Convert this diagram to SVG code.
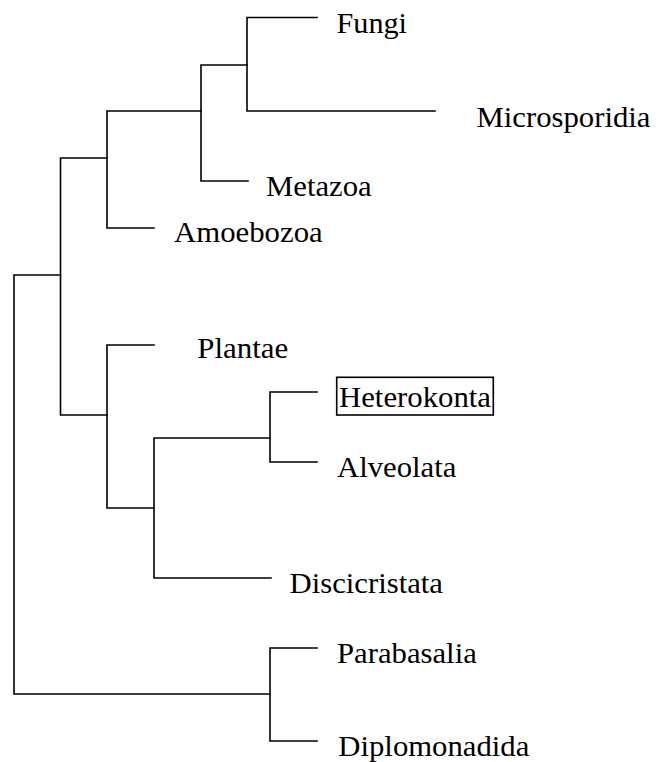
<svg xmlns="http://www.w3.org/2000/svg" width="656" height="762" viewBox="0 0 656 762">
<style>
.lbl{font-family:"Liberation Serif","Times New Roman",serif;font-size:30px;fill:#000}
.br{fill:none;stroke:#000;stroke-width:1.6;stroke-linecap:square}
</style>
<rect width="656" height="762" fill="#fff"/>
<g id="connectors" class="br">
<path d="M60.5,275 H14 V694 H270"/>
<path d="M107,158 H60.5 V415 H107"/>
<path d="M201,111 H107 V228 H154"/>
<path d="M247,65 H201 V181 H248"/>
<path d="M317,17.5 H247 V111 H435"/>
<path d="M154,345 H107 V508 H154"/>
<path d="M270,438 H154 V578 H271"/>
<path d="M317,392 H270 V462 H317"/>
<path d="M317,648 H270 V741 H317"/>
</g>
<g id="Fungi"><text class="lbl" x="336.5" y="32.5" textLength="70.5" lengthAdjust="spacingAndGlyphs">Fungi</text></g>
<g id="Microsporidia"><text class="lbl" x="476.5" y="126.7" textLength="174" lengthAdjust="spacingAndGlyphs">Microsporidia</text></g>
<g id="Metazoa"><text class="lbl" x="266" y="196" textLength="105.7" lengthAdjust="spacingAndGlyphs">Metazoa</text></g>
<g id="Amoebozoa"><text class="lbl" x="174" y="242.3" textLength="148.7" lengthAdjust="spacingAndGlyphs">Amoebozoa</text></g>
<g id="Plantae"><text class="lbl" x="197.3" y="358.3" textLength="91" lengthAdjust="spacingAndGlyphs">Plantae</text></g>
<g id="Heterokonta">
<rect x="336.7" y="377.3" width="156.6" height="37.7" fill="none" stroke="#000" stroke-width="1.6"/>
<text class="lbl" x="339" y="407.3" textLength="152" lengthAdjust="spacingAndGlyphs">Heterokonta</text>
</g>
<g id="Alveolata"><text class="lbl" x="337" y="476.7" textLength="119.4" lengthAdjust="spacingAndGlyphs">Alveolata</text></g>
<g id="Discicristata"><text class="lbl" x="289.5" y="592.7" textLength="153.5" lengthAdjust="spacingAndGlyphs">Discicristata</text></g>
<g id="Parabasalia"><text class="lbl" x="337" y="662.7" textLength="139.8" lengthAdjust="spacingAndGlyphs">Parabasalia</text></g>
<g id="Diplomonadida"><text class="lbl" x="338.3" y="756" textLength="191" lengthAdjust="spacingAndGlyphs">Diplomonadida</text></g>
</svg>
